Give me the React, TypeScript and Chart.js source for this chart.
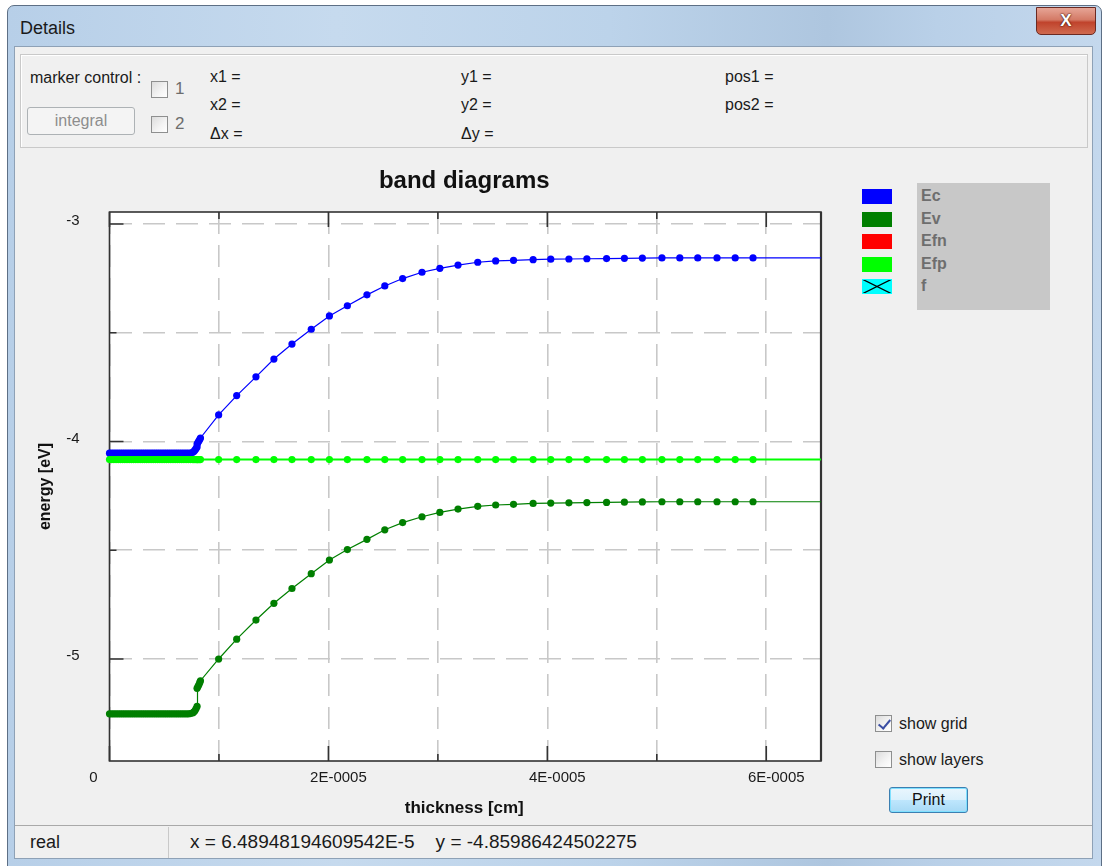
import React, { useEffect, useRef } from "react";
import { Chart, registerables } from "chart.js";

Chart.register(...registerables);

// Mesh positions along the device [cm]
const thickness = [
  0, 2e-7, 4e-7, 6e-7, 8e-7, 1.0e-6, 1.2e-6, 1.4e-6, 1.6e-6, 1.8e-6,
  2.0e-6, 2.2e-6, 2.4e-6, 2.6e-6, 2.8e-6, 3.0e-6, 3.2e-6, 3.4e-6, 3.6e-6, 3.8e-6,
  4.0e-6, 4.2e-6, 4.4e-6, 4.6e-6, 4.8e-6, 5.0e-6, 5.2e-6, 5.4e-6, 5.6e-6, 5.8e-6,
  6.0e-6, 6.2e-6, 6.4e-6, 6.6e-6, 6.8e-6, 7.0e-6, 7.2e-6, 7.4e-6, 7.6e-6, 7.7e-6,
  7.8e-6, 7.9e-6, 8.0e-6,
  8.0e-6, 8.08e-6, 8.16e-6, 8.24e-6,
  8.31e-6, 9.97e-6, 1.162e-5, 1.338e-5, 1.502e-5, 1.667e-5, 1.843e-5, 2.009e-5,
  2.173e-5, 2.352e-5, 2.515e-5, 2.678e-5, 2.855e-5, 3.018e-5, 3.184e-5, 3.364e-5,
  3.528e-5, 3.691e-5, 3.870e-5, 4.031e-5, 4.197e-5, 4.361e-5, 4.541e-5, 4.704e-5,
  4.868e-5, 5.047e-5, 5.210e-5, 5.374e-5, 5.550e-5, 5.716e-5, 5.879e-5,
  6.5e-5,
];

// Conduction band edge [eV]
const ecValues = [
  -4.054, -4.054, -4.054, -4.054, -4.054, -4.054, -4.054, -4.054, -4.054, -4.054,
  -4.054, -4.054, -4.054, -4.054, -4.054, -4.054, -4.054, -4.054, -4.054, -4.054,
  -4.054, -4.054, -4.054, -4.054, -4.054, -4.054, -4.054, -4.054, -4.054, -4.054,
  -4.054, -4.054, -4.054, -4.054, -4.054, -4.054, -4.054, -4.053, -4.050, -4.046,
  -4.040, -4.033, -4.025,
  -4.012, -4.005, -3.998, -3.991,
  -3.984, -3.878, -3.789, -3.703, -3.621, -3.552, -3.484, -3.423,
  -3.376, -3.326, -3.285, -3.251, -3.222, -3.204, -3.189, -3.176,
  -3.170, -3.167, -3.164, -3.162, -3.161, -3.160, -3.159, -3.158,
  -3.157, -3.156, -3.156, -3.156, -3.156, -3.156, -3.156,
  -3.156,
];

// Valence band edge [eV]
const evValues = [
  -5.252, -5.252, -5.252, -5.252, -5.252, -5.252, -5.252, -5.252, -5.252, -5.252,
  -5.252, -5.252, -5.252, -5.252, -5.252, -5.252, -5.252, -5.252, -5.252, -5.252,
  -5.252, -5.252, -5.252, -5.252, -5.252, -5.252, -5.252, -5.252, -5.252, -5.252,
  -5.252, -5.252, -5.252, -5.252, -5.252, -5.252, -5.252, -5.251, -5.248, -5.244,
  -5.238, -5.229, -5.218,
  -5.135, -5.127, -5.119, -5.109,
  -5.100, -5.000, -4.909, -4.821, -4.744, -4.676, -4.608, -4.545,
  -4.497, -4.450, -4.406, -4.373, -4.346, -4.326, -4.311, -4.298,
  -4.292, -4.289, -4.285, -4.283, -4.282, -4.281, -4.280, -4.279,
  -4.278, -4.277, -4.277, -4.277, -4.277, -4.277, -4.277,
  -4.277,
];

// Hole quasi-Fermi level [eV]
const efpValues = [
  -4.083, -4.083, -4.083, -4.083, -4.083, -4.083, -4.083, -4.083, -4.083, -4.083,
  -4.083, -4.083, -4.083, -4.083, -4.083, -4.083, -4.083, -4.083, -4.083, -4.083,
  -4.083, -4.083, -4.083, -4.083, -4.083, -4.083, -4.083, -4.083, -4.083, -4.083,
  -4.083, -4.083, -4.083, -4.083, -4.083, -4.083, -4.083, -4.083, -4.083, -4.083,
  -4.083, -4.083, -4.083,
  -4.083, -4.083, -4.083, -4.083,
  -4.083, -4.083, -4.083, -4.083, -4.083, -4.083, -4.083, -4.083,
  -4.083, -4.083, -4.083, -4.083, -4.083, -4.083, -4.083, -4.083,
  -4.083, -4.083, -4.083, -4.083, -4.083, -4.083, -4.083, -4.083,
  -4.083, -4.083, -4.083, -4.083, -4.083, -4.083, -4.083,
  -4.083,
];

const yMin = -5.469;
const yMax = -2.945;
const xMin = 0;
const xMax = 6.5e-5;
const yGridValues = [-3, -3.5, -4, -4.5, -5];
const yLabelValues = [-3, -4, -5];
const yTickLabels = ["-3", "-4", "-5"];
const xGridValues = [0, 1e-5, 2e-5, 3e-5, 4e-5, 5e-5, 6e-5];
const xLabelValues = [0, 2e-5, 4e-5, 6e-5];
const xTickLabels = ["0", "2E-0005", "4E-0005", "6E-0005"];

const legendNames = ["Ec", "Ev", "Efn", "Efp", "f"];
const legendColors = ["#0000ff", "#007f00", "#ff0000", "#00ff00", "#00ffff"];

const chartTitle = "band diagrams";
const xTitle = "thickness [cm]";
const yTitle = "energy [eV]";
const statusMode = "real";
const statusCursor = "x = 6.48948194609542E-5    y = -4.85986424502275";

const FONT = '"Liberation Sans", Arial, sans-serif';

const toPoints = (vals: number[]) => vals.map((v, i) => ({ x: thickness[i], y: v }));
const lastIndex = thickness.length - 1;

// White plot field, frame, inward tick marks and all axis texts
const bandFramePlugin = {
  id: "bandFrame",
  beforeDraw(chart: any) {
    const { ctx, chartArea: a } = chart;
    ctx.save();
    ctx.fillStyle = "#ffffff";
    ctx.fillRect(a.left, a.top, a.right - a.left, a.bottom - a.top);
    ctx.restore();
  },
  beforeDatasetsDraw(chart: any) {
    const { ctx, chartArea: a, scales } = chart;
    const xs = scales.x;
    const ys = scales.y;
    ctx.save();
    ctx.strokeStyle = "#333333";
    ctx.lineWidth = 1.6;
    ctx.beginPath();
    yGridValues.forEach((v) => {
      const py = ys.getPixelForValue(v);
      const len = Number.isInteger(v) ? 14 : 7;
      ctx.moveTo(a.left, py);
      ctx.lineTo(a.left + len, py);
    });
    xGridValues.forEach((v, i) => {
      const px = xs.getPixelForValue(v);
      const len = i % 2 === 0 ? 15 : 7;
      ctx.moveTo(px, a.bottom);
      ctx.lineTo(px, a.bottom - len);
      ctx.moveTo(px, a.top);
      ctx.lineTo(px, a.top + len);
    });
    ctx.stroke();
    ctx.lineWidth = 1.6;
    ctx.strokeRect(a.left, a.top, a.right - a.left, a.bottom - a.top);
    ctx.lineWidth = 2.2;
    ctx.beginPath();
    ctx.moveTo(a.right, a.top);
    ctx.lineTo(a.right, a.bottom);
    ctx.stroke();
    ctx.restore();
  },
  afterDraw(chart: any) {
    const { ctx, chartArea: a, scales } = chart;
    const xs = scales.x;
    const ys = scales.y;
    ctx.save();
    ctx.fillStyle = "#1a1a1a";
    ctx.font = `15px ${FONT}`;
    ctx.textBaseline = "middle";
    ctx.textAlign = "right";
    yLabelValues.forEach((v, i) => {
      ctx.fillText(yTickLabels[i], a.left - 30, ys.getPixelForValue(v) - 3);
    });
    ctx.textAlign = "center";
    xLabelValues.forEach((v, i) => {
      const dx = v === 0 ? -16 : 10;
      ctx.fillText(xTickLabels[i], xs.getPixelForValue(v) + dx, a.bottom + 17);
    });
    ctx.font = `bold 17px ${FONT}`;
    ctx.fillStyle = "#111111";
    const cx = (a.left + a.right) / 2;
    ctx.fillText(xTitle, cx - 1, a.bottom + 47);
    ctx.font = `bold 24px ${FONT}`;
    ctx.fillText(chartTitle, cx - 1, a.top - 31);
    ctx.save();
    ctx.translate(a.left - 64, (a.top + a.bottom) / 2);
    ctx.rotate(-Math.PI / 2);
    ctx.font = `bold 16px ${FONT}`;
    ctx.fillText(yTitle, 0, 0);
    ctx.restore();
    ctx.restore();
  },
};

function BandChart() {
  const ref = useRef<HTMLCanvasElement | null>(null);
  useEffect(() => {
    if (!ref.current) return;
    const markerRadius = (c: any) => (c.dataIndex === lastIndex ? 0 : 3.6);
    const series = (label: string, vals: number[], color: string, width: number) => ({
      label,
      data: toPoints(vals),
      borderColor: color,
      backgroundColor: color,
      borderWidth: width,
      pointRadius: markerRadius,
      pointBackgroundColor: color,
      pointBorderWidth: 0,
      pointHoverRadius: 0,
      tension: 0,
      clip: false,
    });
    const chart = new Chart(ref.current, {
      type: "line",
      data: {
        datasets: [
          series("Efp", efpValues, "#00ff00", 2),
          series("Ec", ecValues, "#0000ff", 1.2),
          series("Ev", evValues, "#007f00", 1.2),
        ],
      },
      options: {
        responsive: false,
        animation: false,
        events: [],
        layout: { padding: { left: 95.5, top: 62, right: 29, bottom: 65 } },
        plugins: { legend: { display: false }, tooltip: { enabled: false }, title: { display: false } },
        scales: {
          x: {
            type: "linear",
            min: xMin,
            max: xMax,
            afterBuildTicks: (s: any) => {
              s.ticks = xGridValues.map((v) => ({ value: v }));
            },
            afterFit: (s: any) => {
              s.height = 0;
            },
            ticks: { display: false },
            grid: { color: "#c8c8c8", lineWidth: 1.6, drawTicks: false },
            border: { display: false, dash: [22, 11] },
          },
          y: {
            type: "linear",
            min: yMin,
            max: yMax,
            afterBuildTicks: (s: any) => {
              s.ticks = yGridValues.map((v) => ({ value: v }));
            },
            afterFit: (s: any) => {
              s.width = 0;
            },
            ticks: { display: false },
            grid: { color: "#c8c8c8", lineWidth: 1.6, drawTicks: false },
            border: { display: false, dash: [22, 11] },
          },
        },
      },
      plugins: [bandFramePlugin],
    } as any);
    return () => chart.destroy();
  }, []);
  return <canvas ref={ref} width={836} height={676} style={{ position: "absolute", left: 14, top: 150 }} />;
}

function CheckBox({ left, top, checked, size = 17 }: { left: number; top: number; checked?: boolean; size?: number }) {
  return (
    <div
      style={{
        position: "absolute",
        left,
        top,
        width: size,
        height: size,
        boxSizing: "border-box",
        border: "1px solid #8e8f8f",
        background: "linear-gradient(135deg, #dcdcdc 0%, #f4f4f4 60%, #ffffff 100%)",
      }}
    >
      {checked ? (
        <div
          style={{
            position: "absolute",
            left: 5,
            top: 1,
            width: 5,
            height: 10,
            borderRight: "2.5px solid #3b4ea3",
            borderBottom: "2.5px solid #3b4ea3",
            transform: "rotate(40deg)",
          }}
        />
      ) : null}
    </div>
  );
}

const Txt = ({ left, top, children, size = 16, color = "#1a1a1a", bold = false }: any) => (
  <div
    style={{
      position: "absolute",
      left,
      top,
      fontSize: size,
      lineHeight: "20px",
      color,
      fontWeight: bold ? "bold" : "normal",
      whiteSpace: "pre",
    }}
  >
    {children}
  </div>
);

export default function App() {
  return (
    <div
      style={{
        position: "absolute",
        left: 0,
        top: 0,
        width: 1105,
        height: 866,
        overflow: "hidden",
        background: "#ffffff",
        fontFamily: FONT,
      }}
    >
      {/* window frame */}
      <div
        style={{
          position: "absolute",
          left: 7,
          top: 5,
          width: 1095,
          height: 870,
          boxSizing: "border-box",
          border: "1px solid #5d6f85",
          borderRadius: "7px 7px 0 0",
          background:
            "linear-gradient(90deg, #b7cfe8 0%, #c6daee 30%, #bcd3ea 55%, #aec6df 75%, #b9d0e8 85%, #c4d8ed 100%)",
        }}
      />
      <Txt left={20} top={18} size={18}>Details</Txt>
      {/* close button */}
      <div
        style={{
          position: "absolute",
          left: 1036,
          top: 7,
          width: 60,
          height: 28,
          boxSizing: "border-box",
          border: "1px solid #6b2a22",
          borderRadius: "0 0 5px 5px",
          background: "linear-gradient(180deg, #e6a596 0%, #d47a66 45%, #c0432c 55%, #cf6a4f 100%)",
          color: "#ffffff",
          fontWeight: "bold",
          fontSize: 17,
          textAlign: "center",
          lineHeight: "26px",
          textShadow: "0 0 2px #3a0b05, 0 0 1px #3a0b05",
        }}
      >
        X
      </div>
      {/* client area */}
      <div
        style={{
          position: "absolute",
          left: 14,
          top: 46,
          width: 1079,
          height: 813,
          boxSizing: "border-box",
          border: "1px solid #8ea1b6",
          background: "#f0f0f0",
        }}
      />
      {/* marker panel */}
      <div
        style={{
          position: "absolute",
          left: 20,
          top: 54,
          width: 1068,
          height: 94,
          boxSizing: "border-box",
          border: "1px solid #c9c9c9",
          boxShadow: "inset 1px 1px 0 #ffffff",
        }}
      />
      <Txt left={30} top={68}>marker control :</Txt>
      <CheckBox left={151} top={81} />
      <Txt left={175} top={79} size={17} color="#6d6d6d">1</Txt>
      <CheckBox left={151} top={116} />
      <Txt left={175} top={114} size={17} color="#6d6d6d">2</Txt>
      <div
        style={{
          position: "absolute",
          left: 27,
          top: 107,
          width: 108,
          height: 28,
          boxSizing: "border-box",
          border: "1px solid #adb2b5",
          borderRadius: 3,
          background: "#f4f4f4",
          color: "#8d8d8d",
          fontSize: 16,
          textAlign: "center",
          lineHeight: "26px",
        }}
      >
        integral
      </div>
      <Txt left={210} top={67}>x1 =</Txt>
      <Txt left={210} top={95}>x2 =</Txt>
      <Txt left={210} top={124}>Δx =</Txt>
      <Txt left={461} top={67}>y1 =</Txt>
      <Txt left={461} top={95}>y2 =</Txt>
      <Txt left={461} top={124}>Δy =</Txt>
      <Txt left={725} top={67}>pos1 =</Txt>
      <Txt left={725} top={95}>pos2 =</Txt>

      <BandChart />

      {/* legend */}
      <div
        style={{
          position: "absolute",
          left: 917,
          top: 183,
          width: 133,
          height: 127,
          background: "#c8c8c8",
        }}
      />
      {legendNames.map((name, i) => (
        <React.Fragment key={name}>
          <div
            style={{
              position: "absolute",
              left: 862,
              top: 189 + i * 22.5,
              width: 30,
              height: 15,
              boxSizing: "border-box",
              background: legendColors[i],
              border: `1px solid ${legendColors[i]}`,
              overflow: "hidden",
            }}
          >
            {name === "f" ? (
              <svg width={30} height={15} style={{ position: "absolute", left: -1, top: -1 }}>
                <line x1={0} y1={0} x2={30} y2={15} stroke="#000" strokeWidth={1.2} />
                <line x1={0} y1={15} x2={30} y2={0} stroke="#000" strokeWidth={1.2} />
              </svg>
            ) : null}
          </div>
          <Txt left={921} top={186 + i * 22.5} size={16} bold color="#6e6e6e">
            {name}
          </Txt>
        </React.Fragment>
      ))}

      {/* display options */}
      <CheckBox left={875} top={715} checked />
      <Txt left={899} top={714} size={16}>show grid</Txt>
      <CheckBox left={875} top={751} />
      <Txt left={899} top={750} size={16}>show layers</Txt>
      <div
        style={{
          position: "absolute",
          left: 889,
          top: 787,
          width: 79,
          height: 26,
          boxSizing: "border-box",
          border: "1px solid #3c7fb1",
          borderRadius: 3,
          boxShadow: "inset 0 0 0 1px #7fe0ff",
          background: "linear-gradient(180deg, #eaf6fd 0%, #d9f0fc 50%, #bee6fd 51%, #a7d9f5 100%)",
          color: "#111",
          fontSize: 16,
          textAlign: "center",
          lineHeight: "24px",
        }}
      >
        Print
      </div>

      {/* status bar */}
      <div
        style={{
          position: "absolute",
          left: 15,
          top: 825,
          width: 1077,
          height: 33,
          boxSizing: "border-box",
          borderTop: "1px solid #a9a9a9",
          background: "#f0f0f0",
        }}
      />
      <div style={{ position: "absolute", left: 168, top: 827, width: 1, height: 31, background: "#c9c9c9" }} />
      <Txt left={30} top={832} size={18}>{statusMode}</Txt>
      <Txt left={190} top={832} size={19}>{statusCursor}</Txt>
    </div>
  );
}
